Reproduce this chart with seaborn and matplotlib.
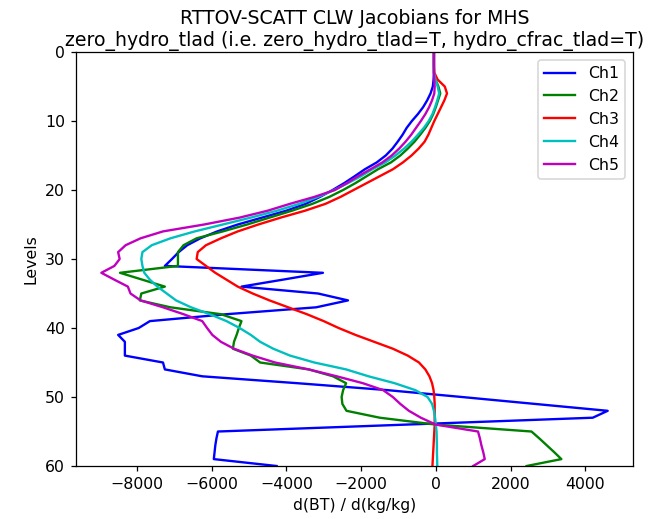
import numpy as np
import pandas as pd
import matplotlib
matplotlib.use("Agg")
import matplotlib.pyplot as plt
import seaborn as sns

# Model levels (top of atmosphere = 0)
levels = list(range(0, 61))

# Cloud liquid water Jacobians d(BT)/d(kg/kg) per MHS channel
ch1 = [-50, -50, -50, -50, -60, -80, -140, -230, -340, -480,
       -640, -780, -890, -1020, -1160, -1340, -1580, -1900, -2170, -2450,
       -2760, -3100, -3480, -4000, -4650, -5300, -5850, -6300, -6650, -6880,
       -7060, -7250, -3020, -4100, -5200, -3150, -2350, -3200, -5600, -7650,
       -7950, -8500, -8320, -8320, -8320, -7300, -7250, -6250, -3700, -1300,
       700, 2650, 4600, 4200, -800, -5830, -5870, -5900, -5920, -5940,
       -4260]
ch2 = [-50, -50, -50, -50, -10, 70, 120, 60, 0, -70,
       -160, -280, -420, -570, -750, -950, -1200, -1550, -1850, -2150,
       -2480, -2850, -3300, -3850, -4450, -5050, -5700, -6400, -6750, -6900,
       -6900, -6900, -8450, -7850, -7250, -7880, -7920, -7100, -5750, -5200,
       -5270, -5330, -5400, -5430, -4950, -4700, -3400, -2750, -2400, -2480,
       -2520, -2500, -2390, -1500, 0, 2560, 2770, 2970, 3170, 3360,
       2430]
ch3 = [-50, -50, -50, -40, 50, 240, 300, 230, 140, 50,
       -40, -120, -200, -300, -460, -650, -880, -1150, -1500, -1850,
       -2200, -2550, -2950, -3500, -4150, -4750, -5300, -5750, -6150, -6370,
       -6400, -6150, -5900, -5600, -5300, -4900, -4450, -3950, -3450, -3000,
       -2600, -2150, -1650, -1150, -750, -450, -280, -170, -100, -60,
       -40, -30, -30, -30, -30, -40, -50, -60, -70, -80,
       -90]
ch4 = [-50, -50, -50, -50, -10, 50, 90, 40, -20, -90,
       -190, -320, -480, -650, -850, -1080, -1350, -1700, -2000, -2350,
       -2720, -3150, -3650, -4250, -4950, -5700, -6450, -7100, -7600, -7850,
       -7880, -7850, -7800, -7650, -7450, -7200, -6950, -6550, -6050, -5600,
       -5250, -4950, -4700, -4350, -3900, -3250, -2400, -1800, -1100, -550,
       -220, -100, -50, -20, 0, 20, 25, 30, 30, 35,
       40]
ch5 = [-50, -50, -50, -50, -40, -30, -40, -100, -180, -280,
       -400, -530, -660, -810, -980, -1180, -1430, -1750, -2080, -2380,
       -2700, -3250, -3900, -4500, -5250, -6200, -7300, -7900, -8300, -8500,
       -8460, -8600, -8950, -8600, -8240, -8170, -7900, -7300, -6750, -6250,
       -6120, -5980, -5750, -5400, -4900, -4300, -3400, -2650, -1950, -1410,
       -1150, -950, -720, -400, 0, 1130, 1180, 1220, 1270, 1310,
       1000]

channels = ["Ch1", "Ch2", "Ch3", "Ch4", "Ch5"]
series = [ch1, ch2, ch3, ch4, ch5]
colors = ["b", "g", "r", "c", "m"]

df = pd.concat(
    [pd.DataFrame({"jac": vals, "level": levels, "channel": name})
     for name, vals in zip(channels, series)],
    ignore_index=True,
)

DPI = 113
fig = plt.figure(figsize=(657 / DPI, 519 / DPI), dpi=DPI)
ax = fig.add_axes([0.1157, 0.1021, 0.8478, 0.7977])

sns.lineplot(data=df, x="jac", y="level", hue="channel", palette=colors,
             sort=False, estimator=None, linewidth=1.5, ax=ax)

ax.set_ylim(60, 0)
ax.set_yticks([0, 10, 20, 30, 40, 50, 60])
ax.set_xticks([-8000, -6000, -4000, -2000, 0, 2000, 4000])
ax.set_xlabel("d(BT) / d(kg/kg)", fontsize=10)
ax.set_ylabel("Levels", fontsize=10)
ax.set_title("RTTOV-SCATT CLW Jacobians for MHS\n"
             "zero_hydro_tlad (i.e. zero_hydro_tlad=T, hydro_cfrac_tlad=T)",
             fontsize=12, pad=4)
ax.tick_params(labelsize=10)
sns.move_legend(ax, "upper right", title=None, fontsize=10)

fig.savefig("out.png", dpi=DPI)
